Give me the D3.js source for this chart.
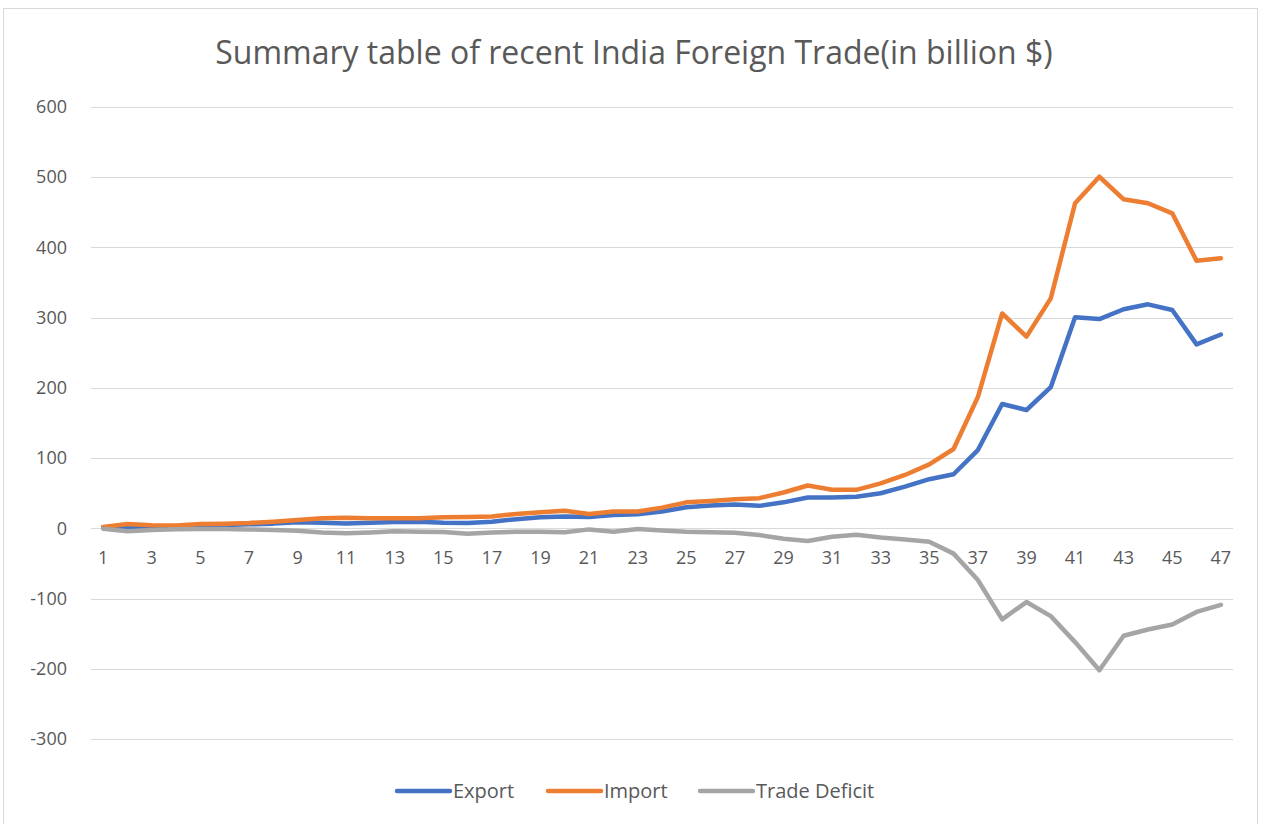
<!DOCTYPE html>
<html>
<head>
<meta charset="utf-8">
<script src="https://cdn.jsdelivr.net/npm/d3@7"></script>
<style>
  body { margin: 0; background: #fff; }
  text { font-family: "Open Sans", "Noto Sans", sans-serif; }
</style>
</head>
<body>
<script>

// values (billion $)
var periods = d3.range(1, 48);
var exportVals = [1.5, 2, 2, 3, 4.3, 4.8, 5.7, 6.7, 8.6, 8, 7, 8, 9, 9.5, 8, 7.6, 9.5, 13, 15.7, 17,
	16, 19, 20, 24, 30, 32.4, 33.8, 32, 37, 44, 44, 45, 50, 59.5, 70, 77, 111.5, 177, 168.5, 201,
	300.5, 298, 312, 319, 311, 262, 276];
var importVals = [2, 6.2, 4.3, 4, 6, 6.5, 7.6, 9.5, 12, 14.5, 15, 14.5, 14.3, 14.5, 15.7, 16, 17, 20.5, 23, 25,
	20.5, 24, 24, 29.5, 37, 39, 41.4, 43, 51, 61, 55, 54.8, 64, 76, 91, 113, 187, 306, 273, 327.5,
	463, 500.7, 468.5, 463, 448.6, 381, 384.5];
var deficitVals = [-0.5, -4.3, -2.4, -1.4, -1, -1, -1.5, -2.4, -3.3, -6, -7, -6, -4.3, -5, -5.2, -7.6, -6, -5, -4.8, -5.7,
	-1.5, -4.8, -1, -3, -4.8, -5.7, -6.2, -9.5, -14.8, -18, -12, -9, -13, -16, -19, -36, -73.6, -129.6, -105, -125,
	-162, -202, -153, -144, -137, -119, -109];
var yTicks = [-300, -200, -100, 0, 100, 200, 300, 400, 500, 600];

var seriesNames = ["Export", "Import", "Trade Deficit"];
var seriesColors = ["#4472C4", "#ED7D31", "#A5A5A5"];
var seriesVals = [exportVals, importVals, deficitVals];

var width = 1262, height = 824;
var margin = { top: 107, right: 29, bottom: 85, left: 91 };

var svg = d3.select("body")
  .append("svg")
  .attr("width", width)
  .attr("height", height);

// chart border
svg.append("rect")
  .attr("x", 3.5).attr("y", 8.5)
  .attr("width", width - 8).attr("height", height - 6)
  .attr("fill", "#fff")
  .attr("stroke", "#d9d9d9");

var xScale = d3.scaleBand()
  .domain(periods)
  .range([margin.left, width - margin.right]);

var yScale = d3.scaleLinear()
  .domain([-300, 600])
  .range([739, margin.top]);

function xPos(d) { return xScale(d) + xScale.bandwidth() / 2; }

// gridlines
svg.append("g")
  .selectAll("line")
  .data(yTicks)
  .enter().append("line")
  .attr("x1", margin.left)
  .attr("x2", width - margin.right)
  .attr("y1", function(d) { return Math.round(yScale(d)) + 0.5; })
  .attr("y2", function(d) { return Math.round(yScale(d)) + 0.5; })
  .attr("stroke", "#d9d9d9")
  .attr("stroke-width", 1);

// y axis labels (plain hyphen for negatives, like the original)
var yAxis = svg.append("g")
  .attr("transform", `translate(${margin.left},0)`)
  .call(d3.axisLeft(yScale).tickValues(yTicks).tickSize(0).tickPadding(24)
    .tickFormat(function(d) { return String(d); }));
yAxis.select(".domain").remove();
yAxis.selectAll("text")
  .attr("fill", "#595959")
  .style("font-size", "18px");

// x axis labels (every other category, below the zero line)
var xAxis = svg.append("g")
  .attr("transform", `translate(0, ${yScale(0)})`)
  .call(d3.axisBottom(xScale)
    .tickValues(periods.filter(function(d) { return d % 2 === 1; }))
    .tickSize(0).tickPadding(23));
xAxis.select(".domain").remove();
xAxis.selectAll("text")
  .attr("fill", "#595959")
  .style("font-size", "18px");

// lines
var line = d3.line()
  .x(function(d, i) { return xPos(periods[i]); })
  .y(function(d) { return yScale(d); });

seriesVals.forEach(function(vals, k) {
	svg.append("path")
	  .datum(vals)
	  .attr("d", line)
	  .attr("fill", "none")
	  .attr("stroke", seriesColors[k])
	  .attr("stroke-linejoin", "round")
	  .attr("stroke-linecap", "round")
	  .attr("stroke-width", 4.5);
});

// title
svg.append("text")
  .attr("x", 634)
  .attr("y", 64)
  .attr("text-anchor", "middle")
  .attr("fill", "#595959")
  .style("font-size", "32px")
  .text("Summary table of recent India Foreign Trade(in billion $)");

// legend
var legendX = [397, 548, 700];
var legend = svg.append("g");
seriesNames.forEach(function(name, k) {
	legend.append("line")
	  .attr("x1", legendX[k]).attr("x2", legendX[k] + 53)
	  .attr("y1", 791).attr("y2", 791)
	  .attr("stroke", seriesColors[k])
	  .attr("stroke-width", 4.5)
	  .attr("stroke-linecap", "round");
	legend.append("text")
	  .attr("x", legendX[k] + 56)
	  .attr("y", 798)
	  .attr("fill", "#595959")
	  .style("font-size", "20px")
	  .text(name);
});

</script>
</body>
</html>
